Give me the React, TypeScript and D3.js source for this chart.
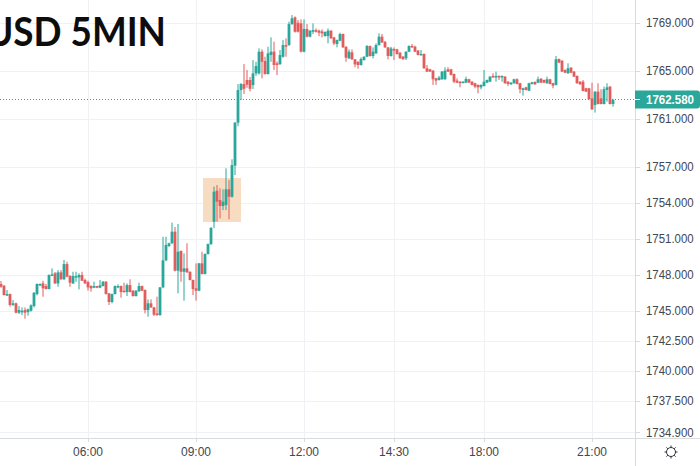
import React from "react";
import * as d3 from "d3";

const opens = [
1747.25,1747.11,1746.30,1746.41,1745.52,1745.64,1744.86,1744.91,1745.08,1744.91,
1745.02,1745.41,1746.41,1747.20,1747.30,1747.08,1746.83,1748.00,1748.14,1747.30,
1748.22,1747.64,1748.91,1747.91,1747.30,1747.80,1747.80,1748.00,1747.58,1747.41,
1747.08,1746.94,1747.08,1746.94,1747.08,1747.44,1746.47,1745.75,1746.41,1747.02,
1747.08,1746.69,1746.58,1747.16,1746.69,1746.25,1746.64,1747.08,1746.75,1745.08,
1745.64,1745.30,1744.80,1744.66,1746.97,1749.22,1750.41,1750.64,1751.61,1748.36,
1750.00,1748.27,1748.55,1748.27,1747.58,1746.89,1746.69,1748.97,1748.08,1749.75,
1750.58,1752.44,1755.02,1754.25,1753.75,1753.83,1755.14,1754.52,1757.11,1760.69,
1763.41,1763.91,1764.25,1764.25,1763.83,1764.80,1764.80,1766.61,1765.83,1764.75,
1766.33,1766.61,1765.64,1765.58,1766.19,1767.16,1767.16,1768.91,1769.47,1769.02,
1768.97,1766.61,1768.50,1767.86,1768.27,1768.41,1768.36,1768.30,1767.91,1767.91,
1768.36,1767.80,1767.25,1767.52,1768.08,1767.02,1766.05,1766.55,1765.97,1765.77,
1765.50,1765.91,1766.19,1767.08,1766.25,1766.47,1767.16,1767.86,1767.44,1766.97,
1766.25,1766.83,1766.80,1766.53,1766.20,1766.06,1766.61,1767.09,1767.03,1766.70,
1766.36,1766.42,1765.23,1765.14,1765.03,1764.39,1764.25,1764.31,1764.31,1765.14,
1765.14,1764.75,1764.20,1764.11,1764.03,1764.03,1764.31,1764.11,1763.98,1763.84,
1763.64,1763.75,1764.03,1764.11,1764.59,1764.48,1764.59,1764.48,1764.53,1764.11,
1763.89,1763.98,1764.31,1763.98,1763.42,1763.64,1763.36,1763.92,1764.09,1764.03,
1764.36,1764.25,1763.98,1764.31,1763.98,1763.84,1766.00,1765.86,1765.09,1764.81,
1765.28,1764.95,1764.59,1764.11,1764.11,1763.56,1763.56,1762.72,1762.17,1763.28,
1762.72,1762.25,1763.42,1763.70,1762.25,
];

const closes = [
1747.02,1746.33,1746.41,1745.50,1745.64,1744.86,1745.08,1745.02,1744.86,1745.14,
1745.47,1746.52,1747.25,1747.25,1746.89,1746.83,1748.00,1748.05,1747.30,1748.22,
1747.64,1748.91,1747.86,1747.36,1747.91,1747.91,1748.00,1747.52,1747.30,1746.97,
1746.89,1747.08,1746.94,1747.14,1747.44,1746.41,1745.75,1746.41,1747.08,1747.08,
1746.58,1746.58,1747.16,1746.58,1746.25,1746.69,1747.08,1746.69,1745.08,1745.64,
1745.30,1744.69,1744.66,1746.97,1749.22,1750.50,1750.64,1751.61,1748.36,1749.94,
1748.27,1748.55,1748.22,1747.58,1746.83,1746.69,1748.97,1748.08,1749.75,1750.58,
1751.92,1754.94,1754.11,1753.75,1754.11,1755.14,1754.52,1757.16,1760.69,1763.41,
1763.91,1763.52,1763.86,1763.52,1764.80,1765.41,1766.61,1765.77,1764.75,1766.47,
1766.61,1765.50,1765.50,1766.33,1767.16,1767.08,1768.91,1769.39,1768.27,1768.27,
1766.61,1768.50,1767.86,1768.36,1768.41,1768.27,1768.19,1768.14,1768.25,1768.36,
1767.72,1767.30,1767.58,1768.08,1766.97,1766.11,1766.61,1765.97,1765.55,1765.50,
1766.00,1766.19,1767.08,1766.25,1766.61,1767.16,1767.86,1767.38,1766.97,1766.25,
1766.88,1766.69,1766.41,1766.06,1765.98,1766.61,1767.09,1766.98,1766.61,1766.34,
1766.42,1765.23,1764.95,1764.95,1764.31,1764.20,1764.45,1764.95,1765.03,1764.95,
1764.67,1764.11,1764.03,1763.98,1764.11,1764.34,1764.03,1763.84,1763.70,1763.64,
1763.84,1764.11,1764.25,1764.53,1764.48,1764.59,1764.48,1764.59,1763.98,1763.92,
1764.03,1764.31,1763.92,1763.48,1763.56,1763.42,1763.98,1764.06,1763.89,1764.31,
1764.03,1764.03,1764.31,1763.92,1763.78,1765.98,1765.70,1764.95,1764.86,1765.23,
1764.86,1764.53,1763.98,1763.89,1763.34,1763.28,1762.64,1761.81,1763.28,1762.25,
1762.25,1763.48,1763.64,1762.25,1762.58,
];

const highs = [
1747.50,1747.15,1746.75,1746.45,1745.91,1745.70,1745.41,1745.30,1745.30,1745.20,
1745.55,1746.58,1747.30,1747.30,1747.52,1747.25,1748.05,1748.55,1748.25,1748.41,
1748.41,1749.25,1749.11,1748.00,1748.27,1748.27,1748.14,1748.27,1747.70,1747.52,
1747.15,1747.44,1747.10,1747.58,1747.50,1747.50,1746.50,1746.45,1747.12,1747.22,
1747.12,1747.36,1747.30,1747.64,1746.75,1746.75,1747.36,1747.12,1746.80,1745.97,
1745.97,1745.35,1746.19,1747.00,1751.19,1751.19,1750.70,1752.36,1752.00,1752.25,
1750.05,1749.80,1750.64,1748.30,1747.62,1748.97,1749.00,1749.94,1749.80,1750.62,
1752.00,1755.36,1755.50,1755.22,1755.14,1756.89,1755.91,1757.64,1760.75,1763.91,
1764.00,1765.58,1765.08,1764.50,1765.91,1765.77,1766.89,1766.80,1766.19,1767.02,
1767.80,1767.44,1765.80,1766.75,1767.58,1767.72,1769.11,1769.66,1769.55,1769.25,
1769.30,1769.30,1768.91,1768.40,1768.97,1768.55,1768.45,1768.47,1768.30,1768.55,
1768.40,1767.85,1767.62,1768.19,1768.12,1767.06,1766.80,1766.80,1766.00,1765.80,
1766.14,1766.23,1767.16,1767.12,1766.97,1767.30,1768.14,1768.08,1767.48,1767.00,
1767.02,1766.97,1766.85,1766.57,1766.24,1766.65,1767.13,1767.25,1767.11,1766.75,
1766.75,1766.46,1765.50,1765.18,1765.07,1764.43,1764.59,1765.00,1765.31,1765.31,
1765.18,1764.79,1764.39,1764.15,1764.15,1764.53,1764.35,1764.15,1764.02,1763.88,
1763.88,1765.09,1764.29,1764.57,1764.81,1764.95,1764.63,1764.63,1764.57,1764.15,
1764.07,1764.35,1764.39,1764.02,1763.60,1763.68,1764.02,1764.10,1764.13,1764.53,
1764.40,1764.29,1764.53,1764.35,1764.02,1766.25,1766.04,1765.90,1765.13,1765.64,
1765.32,1764.99,1764.63,1764.15,1764.25,1763.60,1763.60,1764.03,1763.32,1763.98,
1763.48,1763.70,1763.98,1763.74,1762.68,
];

const lows = [
1746.94,1746.30,1746.25,1745.36,1745.41,1744.80,1744.75,1744.66,1744.36,1744.61,
1744.95,1745.30,1746.30,1747.10,1746.19,1746.80,1746.80,1747.90,1747.25,1747.02,
1747.60,1747.60,1747.80,1747.02,1747.25,1747.44,1746.80,1747.50,1747.25,1746.69,
1746.61,1746.90,1746.90,1746.90,1747.05,1746.38,1745.50,1745.64,1746.38,1746.90,
1746.11,1746.55,1746.25,1746.55,1746.20,1746.20,1746.60,1746.65,1744.80,1744.52,
1745.25,1744.58,1744.60,1744.60,1746.90,1749.15,1750.35,1750.60,1748.30,1746.47,
1747.44,1745.86,1748.18,1747.55,1746.33,1745.86,1746.65,1748.05,1748.05,1749.70,
1750.50,1751.90,1752.44,1752.72,1753.41,1753.41,1752.64,1754.45,1756.33,1760.40,
1762.58,1763.08,1763.60,1763.30,1763.50,1764.60,1764.70,1764.39,1764.70,1764.70,
1765.77,1765.08,1764.66,1765.50,1766.10,1766.19,1767.10,1768.85,1768.20,1768.20,
1766.55,1766.55,1767.80,1767.80,1768.08,1768.20,1767.91,1767.80,1767.86,1767.30,
1767.68,1767.16,1766.97,1767.48,1766.93,1765.77,1766.00,1765.93,1765.30,1765.19,
1765.45,1765.87,1766.15,1766.20,1766.05,1766.43,1767.12,1767.34,1766.93,1765.97,
1766.20,1765.91,1766.37,1766.02,1765.94,1765.92,1766.57,1766.94,1766.57,1766.30,
1766.32,1765.19,1764.91,1764.91,1763.84,1763.84,1764.21,1764.27,1764.27,1764.91,
1764.63,1763.98,1763.99,1763.64,1763.99,1763.99,1763.99,1763.80,1763.56,1763.14,
1763.47,1763.71,1763.99,1764.07,1764.44,1764.11,1764.25,1764.11,1763.94,1763.75,
1763.85,1763.94,1763.88,1763.14,1762.95,1763.38,1763.32,1763.88,1763.85,1763.99,
1763.99,1763.99,1763.94,1763.88,1763.56,1763.80,1765.66,1764.91,1764.82,1764.77,
1764.82,1764.49,1763.94,1763.85,1763.30,1763.24,1762.60,1761.75,1761.53,1762.21,
1762.21,1762.21,1762.45,1762.21,1762.03,
];

const priceTicks = [1769, 1765, 1761, 1757, 1754, 1751, 1748, 1745, 1742.5, 1740, 1737.5, 1734.9];
const timeTickBars = [29, 65, 101, 131, 161, 197];
const timeTickLabels = ["06:00", "09:00", "12:00", "14:30", "18:00", "21:00"];
const lastPrice = 1762.58;
const highlightBars = [67.33, 80];
const highlightPrices = [1756.08, 1752.42];
const title = "USD 5MIN";

const UP = "#2ba69a";
const DOWN = "#e25c5c";
const GRID = "#eff1f4";
const AXIS = "#d9dcdf";
const TEXT = "#42464f";
const FONT = "'Liberation Sans', Arial, sans-serif";

const width = 700;
const height = 466;
const plotRight = 635;
const plotBottom = 438;

const x = d3.scaleLinear().domain([0, 1]).range([1, 4]);
const y = d3.scaleLinear().domain([1769, 1765]).range([23, 71]);
const fmt = d3.format(".3f");
const crisp = (v: number) => Math.round(v) + 0.5;

function Sun({ cx, cy }: { cx: number; cy: number }) {
  const rays = d3.range(8).map((k) => (k * Math.PI) / 4);
  return (
    <g stroke="#2f323a" strokeWidth={1} fill="none">
      <circle cx={cx} cy={cy} r={4.5} />
      {rays.map((a, k) => (
        <line
          key={k}
          x1={cx + 4.5 * Math.cos(a)}
          y1={cy + 4.5 * Math.sin(a)}
          x2={cx + 6.5 * Math.cos(a)}
          y2={cy + 6.5 * Math.sin(a)}
        />
      ))}
    </g>
  );
}

export default function App() {
  const yLast = Math.round(y(lastPrice)) - 0.5;
  const tagPath = d3.path();
  tagPath.moveTo(plotRight, yLast - 9);
  tagPath.lineTo(width - 3, yLast - 9);
  tagPath.arcTo(width, yLast - 9, width, yLast - 6, 3);
  tagPath.lineTo(width, yLast + 6);
  tagPath.arcTo(width, yLast + 9, width - 3, yLast + 9, 3);
  tagPath.lineTo(plotRight, yLast + 9);
  tagPath.closePath();

  return (
    <svg
      width={width}
      height={height}
      viewBox={`0 0 ${width} ${height}`}
      style={{ position: "absolute", left: 0, top: 0, background: "#fff" }}
    >
      {priceTicks.map((p) => (
        <line key={p} x1={0} x2={plotRight} y1={crisp(y(p))} y2={crisp(y(p))} stroke={GRID} />
      ))}
      {timeTickBars.map((b) => (
        <line key={b} x1={x(b) + 0.5} x2={x(b) + 0.5} y1={0} y2={plotBottom} stroke={GRID} />
      ))}

      <rect
        x={x(highlightBars[0])}
        y={y(highlightPrices[0])}
        width={x(highlightBars[1]) - x(highlightBars[0])}
        height={y(highlightPrices[1]) - y(highlightPrices[0])}
        fill="#f8dcc2"
      />

      <line
        x1={0}
        x2={plotRight}
        y1={yLast}
        y2={yLast}
        stroke={UP}
        strokeWidth={1}
        strokeDasharray="1 2"
      />

      {opens.map((o, i) => {
        const c = closes[i];
        const color = c >= o ? UP : DOWN;
        const top = y(Math.max(o, c));
        const bot = y(Math.min(o, c));
        return (
          <g key={i}>
            <line x1={x(i)} x2={x(i)} y1={y(highs[i])} y2={y(lows[i])} stroke={color} strokeWidth={1} />
            <rect x={x(i) - 1.4} y={top} width={2.8} height={Math.max(bot - top, 1.5)} fill={color} />
          </g>
        );
      })}

      <text
        x={-14}
        y={46}
        fontFamily="Lato, sans-serif"
        fontWeight={700}
        fontSize={40}
        textLength={180}
        lengthAdjust="spacingAndGlyphs"
        fill="#0d0d0d"
      >
        {title}
      </text>

      <line x1={plotRight + 0.5} x2={plotRight + 0.5} y1={0} y2={height} stroke={AXIS} />
      <line x1={0} x2={width} y1={plotBottom + 0.5} y2={plotBottom + 0.5} stroke={AXIS} />

      {priceTicks.map((p) => (
        <g key={p}>
          <line x1={plotRight} x2={plotRight + 5} y1={crisp(y(p))} y2={crisp(y(p))} stroke={AXIS} />
          <text
            x={646}
            y={y(p)}
            dy="0.36em"
            fontFamily={FONT}
            fontSize={12}
            textLength={47.6}
            lengthAdjust="spacingAndGlyphs"
            fill={TEXT}
          >
            {fmt(p)}
          </text>
        </g>
      ))}

      {timeTickBars.map((b, k) => (
        <g key={b}>
          <line x1={x(b) + 0.5} x2={x(b) + 0.5} y1={plotBottom} y2={plotBottom + 4} stroke={AXIS} />
          <text
            x={x(b)}
            y={456}
            textAnchor="middle"
            fontFamily={FONT}
            fontSize={12}
            fill={TEXT}
          >
            {timeTickLabels[k]}
          </text>
        </g>
      ))}

      <path d={tagPath.toString()} fill={UP} />
      <line x1={plotRight} x2={plotRight + 5} y1={yLast} y2={yLast} stroke="#fff" />
      <text
        x={646}
        y={yLast}
        dy="0.36em"
        fontFamily={FONT}
        fontWeight={700}
        fontSize={12}
        textLength={48}
        lengthAdjust="spacingAndGlyphs"
        fill="#fff"
      >
        {fmt(lastPrice)}
      </text>

      <Sun cx={671} cy={452} />
    </svg>
  );
}
